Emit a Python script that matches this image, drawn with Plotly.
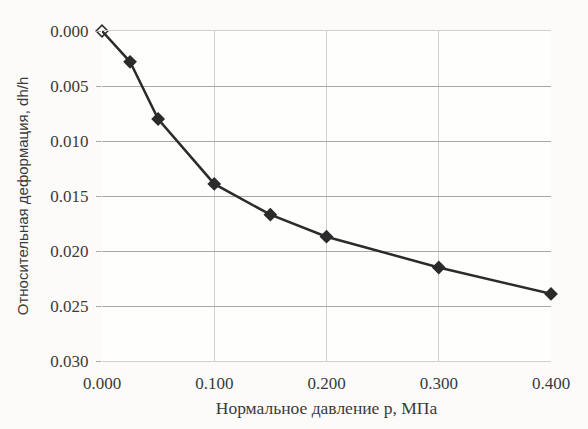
import plotly.graph_objects as go

# Normal pressure p, MPa
pressure = [0.0, 0.025, 0.05, 0.1, 0.15, 0.2, 0.3, 0.4]
# Relative deformation dh/h
strain = [0.0, 0.0028, 0.0080, 0.0139, 0.0167, 0.0187, 0.0215, 0.0239]

x_ticks = [0.0, 0.1, 0.2, 0.3, 0.4]
y_ticks = [0.000, 0.005, 0.010, 0.015, 0.020, 0.025, 0.030]

serif = "Liberation Serif"
sans = "Liberation Sans"
ink = "#2b2b2b"
text_col = "#3a3a3a"

fig = go.Figure()

fig.add_trace(go.Scatter(
    x=pressure,
    y=strain,
    mode="lines+markers",
    cliponaxis=False,
    line=dict(color=ink, width=2.5),
    marker=dict(
        symbol=["diamond-open"] + ["diamond"] * (len(pressure) - 1),
        size=9,
        color=ink,
        line=dict(color=ink, width=1.5),
    ),
    showlegend=False,
))

fig.update_layout(
    width=588,
    height=429,
    margin=dict(l=102, r=37, t=31, b=68),
    paper_bgcolor="#fcfbf9",
    plot_bgcolor="#fefefd",
    font=dict(family=serif, size=16, color=text_col),
)

fig.update_xaxes(
    range=[0, 0.4],
    tickvals=x_ticks,
    tickformat=".3f",
    tickfont=dict(family=serif, size=17, color=text_col),
    showgrid=True,
    gridcolor="#cfcfcf",
    gridwidth=1,
    zeroline=False,
    showline=True,
    linecolor="#cfcfcf",
    mirror=True,
    ticks="",
    ticklabelstandoff=7,
    title=dict(text="Нормальное давление p, МПа", standoff=9,
               font=dict(family=serif, size=17.5, color=text_col)),
)

fig.update_yaxes(
    range=[0.030, 0.0],
    tickvals=y_ticks,
    tickformat=".3f",
    tickfont=dict(family=serif, size=17, color=text_col),
    showgrid=True,
    gridcolor="#a8a8a8",
    gridwidth=1.3,
    zeroline=False,
    showline=False,
    ticks="outside",
    ticklen=5,
    tickcolor="#a8a8a8",
    ticklabelstandoff=4,
    title=dict(text="Относительная деформация, dh/h", standoff=18,
               font=dict(family=sans, size=15, color=text_col)),
)

fig.write_html("out.html")
